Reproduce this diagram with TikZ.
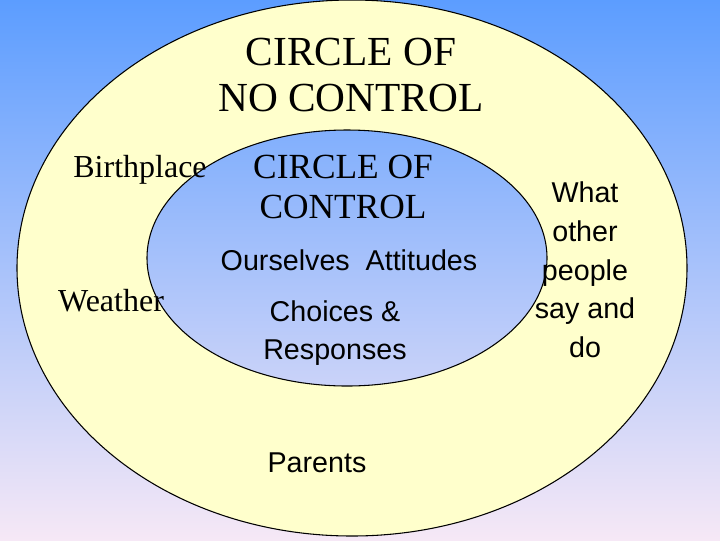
\documentclass[tikz,border=0pt]{standalone}
\usepackage{fontspec}
\setmainfont{Liberation Serif}
\setsansfont{Liberation Sans}
\definecolor{skytop}{HTML}{5C9DFF}
\definecolor{skybot}{HTML}{F6E8F6}
\definecolor{paleyellow}{HTML}{FFFFCC}
\tikzset{
  ringtext/.style={font=\fontsize{24}{28}\selectfont, align=center, inner sep=1pt},
  titletext/.style={font=\fontsize{31}{35}\selectfont, align=center, inner sep=1pt},
  itemtext/.style={font=\sffamily\fontsize{21.5}{28.5}\selectfont, align=center, inner sep=1pt}
}
\begin{document}
\begin{tikzpicture}[x=0.75pt, y=-0.75pt]
	\useasboundingbox (0,0) rectangle (720,540);
	\shade[top color=skytop, bottom color=skybot] (0,0) rectangle (720,540);
	% ring between the two circles
	\fill[paleyellow, even odd rule] (352,268) ellipse [x radius=335, y radius=268]
		(347,258) ellipse [x radius=200, y radius=128];
	\draw[black, line width=0.8pt] (352,268) ellipse [x radius=335, y radius=268];
	\draw[black, line width=0.8pt] (347,258) ellipse [x radius=200, y radius=128];

	\node[titletext] (nocontrol) at (351,75) {CIRCLE OF\\NO CONTROL};
	\node[titletext, font=\fontsize{26.5}{30}\selectfont] (control) at (343,187) {CIRCLE OF\\CONTROL};
	\node[ringtext] (birth) at (140,170) {Birthplace};
	\node[ringtext] (weather) at (111,301) {Weather};
	\node[itemtext] (ourselves) at (349,260) {Ourselves\ \ Attitudes};
	\node[itemtext] (choices) at (335,333) {Choices \&\\Responses};
	\node[itemtext] (parents) at (317,463) {Parents};
	\node[itemtext, font=\sffamily\fontsize{21.5}{29}\selectfont] (others) at (585,270) {What\\other\\people\\say and\\do};
\end{tikzpicture}
\end{document}
